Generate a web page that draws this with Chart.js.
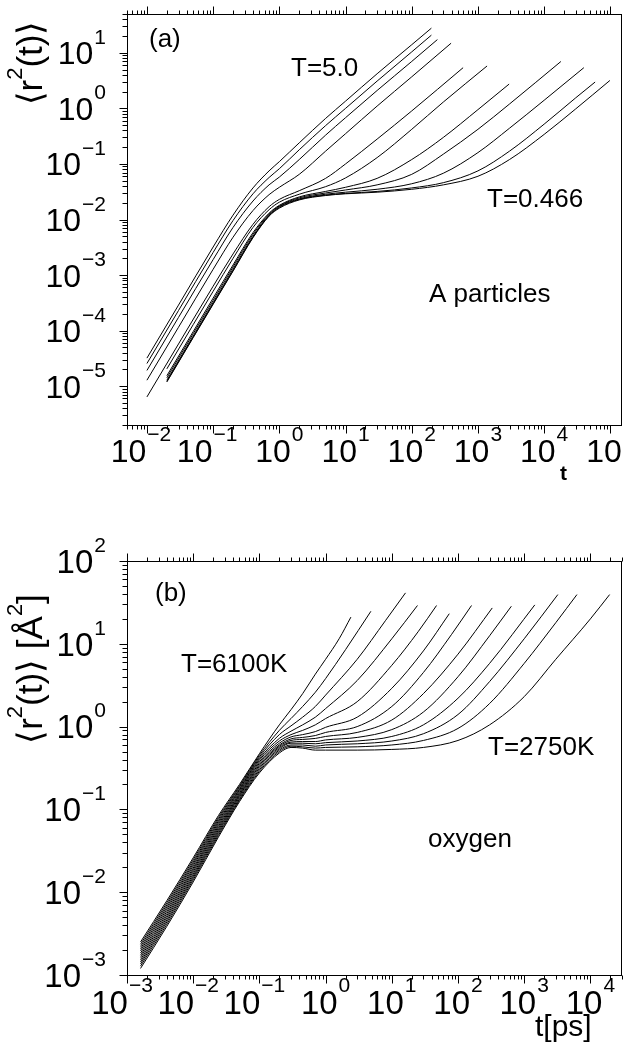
<!DOCTYPE html>
<html>
<head>
<meta charset="utf-8">
<script src="https://cdn.jsdelivr.net/npm/chart.js@4.4.1/dist/chart.umd.min.js"></script>
<style>
  body { margin: 0; background: #fff; width: 623px; height: 1048px; position: relative; overflow: hidden; }
  canvas { position: absolute; left: 0; }
  #ca { top: 0; }
  #cb { top: 495px; }
</style>
</head>
<body>
<canvas id="ca" width="623" height="495"></canvas>
<canvas id="cb" width="623" height="553"></canvas>
<script>
// ---- panel (a): A particles, [t, <r^2(t)>] ----
const aT500 = [[0.01,3.2e-5],[0.03,2.88e-4],[0.1,3.2e-3],[0.2,1.2e-2],[0.4,3.7e-2],[0.7,7.5e-2],[1,0.11],[2,0.24],[5,0.66],[10,1.35],[30,4.2],[100,14],[198,27.8]];
const aT400 = [[0.01,2.56e-5],[0.03,2.3e-4],[0.1,2.55e-3],[0.2,9.6e-3],[0.4,2.9e-2],[0.7,5.7e-2],[1,8.2e-2],[2,0.18],[5,0.49],[10,1.0],[30,3.1],[100,10.4],[198,20.8]];
const aT300 = [[0.01,1.92e-5],[0.03,1.73e-4],[0.1,1.9e-3],[0.2,7.2e-3],[0.4,2.15e-2],[0.7,4.2e-2],[1,5.8e-2],[2,0.12],[5,0.33],[10,0.68],[30,2.1],[100,7.0],[244,17.3]];
const aT200 = [[0.01,1.28e-5],[0.03,1.15e-4],[0.1,1.27e-3],[0.2,4.8e-3],[0.4,1.45e-2],[0.7,2.8e-2],[1,3.8e-2],[2,6.5e-2],[5,0.17],[10,0.35],[30,1.1],[100,3.7],[393,14.9]];
const aT100 = [[0.01,6.4e-6],[0.03,5.75e-5],[0.1,6.3e-4],[0.2,2.4e-3],[0.4,8.2e-3],[0.7,1.7e-2],[1,2.3e-2],[2,3.3e-2],[5,5.5e-2],[10,0.1],[30,0.28],[100,0.9],[597,5.4]];
const aT080 = [[0.02,2.05e-5],[0.05,1.28e-4],[0.1,5.1e-4],[0.2,2e-3],[0.4,7.2e-3],[0.7,1.5e-2],[1,2.05e-2],[2,2.85e-2],[5,3.9e-2],[10,5.6e-2],[30,0.13],[100,0.42],[300,1.3],[1374,5.8]];
const aT060 = [[0.02,1.54e-5],[0.05,9.6e-5],[0.1,3.85e-4],[0.2,1.52e-3],[0.4,5.8e-3],[0.7,1.3e-2],[1,1.8e-2],[2,2.55e-2],[5,3.2e-2],[10,3.8e-2],[30,5.5e-2],[100,0.12],[300,0.3],[1000,0.95],[2960,2.74]];
const aT055 = [[0.02,1.41e-5],[0.05,8.8e-5],[0.1,3.5e-4],[0.2,1.4e-3],[0.4,5.4e-3],[0.7,1.25e-2],[1,1.75e-2],[2,2.45e-2],[5,3.0e-2],[10,3.4e-2],[30,4.2e-2],[100,6.5e-2],[300,0.15],[1000,0.42],[3000,1.2],[17900,6.98]];
const aT050 = [[0.02,1.28e-5],[0.05,8e-5],[0.1,3.2e-4],[0.2,1.28e-3],[0.4,5.0e-3],[0.7,1.2e-2],[1,1.7e-2],[2,2.35e-2],[5,2.85e-2],[10,3.1e-2],[30,3.5e-2],[100,4.4e-2],[300,6.8e-2],[1000,0.16],[3000,0.44],[10000,1.4],[39800,5.4]];
const aT0475 = [[0.02,1.22e-5],[0.05,7.6e-5],[0.1,3.04e-4],[0.2,1.2e-3],[0.4,4.8e-3],[0.7,1.17e-2],[1,1.65e-2],[2,2.3e-2],[5,2.75e-2],[10,2.95e-2],[30,3.2e-2],[100,3.7e-2],[300,4.6e-2],[1000,7.5e-2],[3000,0.17],[10000,0.52],[30000,1.55],[58900,2.98]];
const aT0466 = [[0.02,1.19e-5],[0.05,7.5e-5],[0.1,2.98e-4],[0.2,1.18e-3],[0.4,4.7e-3],[0.7,1.15e-2],[1,1.6e-2],[2,2.25e-2],[5,2.7e-2],[10,2.9e-2],[30,3.1e-2],[100,3.5e-2],[300,4.2e-2],[1000,6e-2],[3000,0.12],[10000,0.34],[30000,0.98],[98400,3.18]];

// ---- panel (b): oxygen, [t in ps, <r^2(t)> in A^2] ----
const b6100 = [[0.0016,2.5e-3],[0.004,7.9e-3],[0.01,0.026],[0.024,0.084],[0.05,0.2],[0.1,0.47],[0.2,1.05],[0.3,1.6],[0.45,2.5],[0.7,4.3],[1,6.5],[1.6,11.5],[2.41,21]];
const b5200 = [[0.0016,2.35e-3],[0.004,7.45e-3],[0.01,0.0246],[0.024,0.0798],[0.05,0.192],[0.1,0.45],[0.2,0.9],[0.3,1.25],[0.45,1.75],[0.7,2.6],[1,3.8],[2,8.5],[4.83,24.7]];
const b4700 = [[0.0016,2.21e-3],[0.004,7.02e-3],[0.01,0.0232],[0.024,0.076],[0.05,0.185],[0.1,0.43],[0.2,0.8],[0.3,1.02],[0.45,1.3],[0.7,1.75],[1,2.4],[3,6.5],[8,19],[16.1,41.2]];
const b4300 = [[0.0016,2.08e-3],[0.004,6.62e-3],[0.01,0.022],[0.024,0.0723],[0.05,0.177],[0.1,0.411],[0.2,0.72],[0.3,0.88],[0.45,1.05],[0.7,1.3],[1,1.65],[3,3.6],[10,11.5],[24.4,29]];
const b4000 = [[0.0016,1.96e-3],[0.004,6.24e-3],[0.01,0.0208],[0.024,0.0689],[0.05,0.171],[0.1,0.394],[0.2,0.67],[0.3,0.8],[0.45,0.9],[0.7,1.05],[1,1.25],[3,2.0],[10,5.5],[25,14],[47.4,29]];
const b3760 = [[0.0016,1.84e-3],[0.004,5.87e-3],[0.01,0.0196],[0.024,0.0655],[0.05,0.164],[0.1,0.376],[0.2,0.63],[0.3,0.75],[0.45,0.8],[0.7,0.87],[1,0.98],[3,1.3],[10,2.9],[30,8.2],[73.8,23.1]];
const b3580 = [[0.0016,1.73e-3],[0.004,5.53e-3],[0.01,0.0186],[0.024,0.0623],[0.05,0.157],[0.1,0.36],[0.2,0.6],[0.3,0.71],[0.45,0.74],[0.7,0.78],[1,0.85],[3,1.0],[10,1.75],[30,4.5],[80,13],[160,29]];
const b3400 = [[0.0016,1.63e-3],[0.004,5.21e-3],[0.01,0.0176],[0.024,0.0593],[0.05,0.151],[0.1,0.344],[0.2,0.58],[0.3,0.68],[0.45,0.7],[0.7,0.72],[1,0.76],[3,0.85],[10,1.2],[30,2.5],[100,7.5],[329,27.1]];
const b3250 = [[0.0016,1.53e-3],[0.004,4.92e-3],[0.01,0.0166],[0.024,0.0564],[0.05,0.146],[0.1,0.33],[0.2,0.56],[0.3,0.65],[0.45,0.66],[0.7,0.66],[1,0.69],[3,0.74],[10,0.92],[30,1.5],[100,4.0],[300,12.5],[639,28.4]];
const b3100 = [[0.0016,1.44e-3],[0.004,4.63e-3],[0.01,0.0157],[0.024,0.0537],[0.05,0.14],[0.1,0.315],[0.2,0.54],[0.3,0.63],[0.45,0.63],[0.7,0.62],[1,0.64],[3,0.67],[10,0.76],[30,1.05],[100,2.2],[300,5.8],[1445,29.5]];
const b3000 = [[0.0016,1.36e-3],[0.004,4.37e-3],[0.01,0.0149],[0.024,0.0511],[0.05,0.134],[0.1,0.301],[0.2,0.52],[0.3,0.6],[0.45,0.6],[0.7,0.58],[1,0.6],[3,0.62],[10,0.67],[30,0.82],[100,1.4],[300,3.5],[1000,11.5],[3220,39.3]];
const b2900 = [[0.0016,1.28e-3],[0.004,4.11e-3],[0.01,0.0141],[0.024,0.0486],[0.05,0.129],[0.1,0.288],[0.2,0.5],[0.3,0.58],[0.45,0.57],[0.7,0.55],[1,0.56],[3,0.57],[10,0.6],[30,0.68],[100,0.95],[300,1.9],[1000,5.8],[3000,18],[6260,39.3]];
const b2750 = [[0.0016,1.2e-3],[0.004,3.87e-3],[0.01,0.0133],[0.024,0.0462],[0.05,0.124],[0.1,0.276],[0.2,0.48],[0.3,0.56],[0.45,0.55],[0.7,0.52],[1,0.52],[3,0.52],[10,0.53],[30,0.56],[100,0.68],[300,1.05],[1000,2.3],[3000,6.5],[10000,20],[19500,39.3]];

const seriesA = [aT500, aT400, aT300, aT200, aT100, aT080, aT060, aT055, aT050, aT0475, aT0466];
const seriesB = [b6100, b5200, b4700, b4300, b4000, b3760, b3580, b3400, b3250, b3100, b3000, b2900, b2750];

// decade exponents used for tick labels
const xExpA = [-2, -1, 0, 1, 2, 3, 4, 5];
const yExpA = [-5, -4, -3, -2, -1, 0, 1];
const xExpB = [-3, -2, -1, 0, 1, 2, 3, 4];
const yExpB = [-3, -2, -1, 0, 1, 2];

const FONT = '"Liberation Sans", Arial, Helvetica, sans-serif';

function logTicks(min, max) {
  const out = [];
  for (let d = Math.floor(Math.log10(min)); d <= Math.ceil(Math.log10(max)); d++) {
    for (let m = 1; m <= 9; m++) {
      const v = m * Math.pow(10, d);
      if (v >= min * 0.999 && v <= max * 1.001) out.push([v, m === 1]);
    }
  }
  return out;
}

// "10" with a superscript exponent, left edge x, baseline y
function sci(ctx, e, x, y, size, sup) {
  ctx.font = size + 'px ' + FONT;
  ctx.fillText('10', x, y);
  const w = ctx.measureText('10').width;
  ctx.font = sup + 'px ' + FONT;
  ctx.fillText(e < 0 ? '\u2212' + (-e) : String(e), x + w + 1, y - size * 0.64);
}
function sciWidth(ctx, e, size, sup) {
  ctx.font = size + 'px ' + FONT;
  const w = ctx.measureText('10').width;
  ctx.font = sup + 'px ' + FONT;
  return w + 1 + ctx.measureText(e < 0 ? '\u2212' + (-e) : String(e)).width;
}

// run of text pieces, some superscript
function rich(ctx, parts, x, y, size, sup) {
  let cx = x;
  for (const p of parts) {
    ctx.font = (p.s ? sup : size) + 'px ' + FONT;
    ctx.fillText(p.t, cx, p.s ? y - size * 0.55 : y);
    cx += ctx.measureText(p.t).width;
  }
  return cx - x;
}
function richWidth(ctx, parts, size, sup) {
  let w = 0;
  for (const p of parts) {
    ctx.font = (p.s ? sup : size) + 'px ' + FONT;
    w += ctx.measureText(p.t).width;
  }
  return w;
}

const frameAxes = {
  id: 'frameAxes',
  afterDraw(chart, args, o) {
    const ctx = chart.ctx, a = chart.chartArea;
    const xs = chart.scales.x, ys = chart.scales.y;
    ctx.save();
    ctx.strokeStyle = '#000';
    ctx.fillStyle = '#000';
    ctx.lineWidth = 1;
    const L = Math.round(a.left) + 0.5, R = Math.round(a.right) - 0.5;
    const T = Math.round(a.top) + 0.5, B = Math.round(a.bottom) + 0.5;
    ctx.strokeRect(L, T, R - L, B - T);
    ctx.beginPath();
    for (const [v, major] of logTicks(xs.min, xs.max)) {
      const px = Math.round(xs.getPixelForValue(v)) + 0.5;
      const len = major ? 8 : 4;
      ctx.moveTo(px, B); ctx.lineTo(px, B + len);
      ctx.moveTo(px, T); ctx.lineTo(px, T - len);
    }
    for (const [v, major] of logTicks(ys.min, ys.max)) {
      const py = Math.round(ys.getPixelForValue(v)) + 0.5;
      const len = major ? 8 : 5;
      ctx.moveTo(L, py); ctx.lineTo(L - len, py);
    }
    ctx.stroke();

    ctx.textAlign = 'left';
    ctx.textBaseline = 'alphabetic';
    const fs = o.tickSize, ss = o.supSize;
    for (const e of o.xExp) {
      const px = xs.getPixelForValue(Math.pow(10, e));
      const w = sciWidth(ctx, e, fs, ss);
      sci(ctx, e, px - w / 2 + (e < 0 ? o.negShift : 0), B + o.xLabelDy, fs, ss);
    }
    for (const e of o.yExp) {
      const py = ys.getPixelForValue(Math.pow(10, e));
      const w = sciWidth(ctx, e, fs, ss);
      sci(ctx, e, o.yLabelRight - w, py + fs * 0.36, fs, ss);
    }

    // rotated y title
    ctx.save();
    ctx.translate(o.yTitle.x, o.yTitle.y);
    ctx.rotate(-Math.PI / 2);
    const tw = richWidth(ctx, o.yTitle.parts, o.yTitle.size, o.yTitle.sup);
    rich(ctx, o.yTitle.parts, -tw / 2, o.yTitle.size * 0.36, o.yTitle.size, o.yTitle.sup);
    ctx.restore();

    // x title
    ctx.font = o.xTitle.font;
    ctx.fillText(o.xTitle.text, o.xTitle.x, o.xTitle.y);

    // annotations
    ctx.font = o.noteSize + 'px ' + FONT;
    for (const n of o.notes) ctx.fillText(n.text, n.x, n.y);
    ctx.restore();
  }
};

function makeChart(id, series, xr, yr, pad, axes) {
  return new Chart(document.getElementById(id), {
    type: 'line',
    data: {
      datasets: series.map(s => ({
        data: s.map(p => ({ x: p[0], y: p[1] })),
        borderColor: '#000',
        borderWidth: 1,
        pointRadius: 0,
        fill: false,
        cubicInterpolationMode: 'monotone'
      }))
    },
    options: {
      responsive: false,
      animation: false,
      devicePixelRatio: 1,
      layout: { padding: pad },
      events: [],
      scales: {
        x: { type: 'logarithmic', min: xr[0], max: xr[1], display: false },
        y: { type: 'logarithmic', min: yr[0], max: yr[1], display: false }
      },
      plugins: { legend: { display: false }, tooltip: { enabled: false }, frameAxes: axes }
    },
    plugins: [frameAxes]
  });
}

makeChart('ca', seriesA, [0.005, 1.5e5], [2e-6, 50],
  { left: 127, right: 1, top: 14, bottom: 70 },
  {
    xExp: xExpA, yExp: yExpA, tickSize: 32, supSize: 21, negShift: -6,
    xLabelDy: 36, yLabelRight: 106,
    yTitle: { x: 29, y: 63, size: 35, sup: 22, parts: [{ t: '\u27E8r' }, { t: '2', s: 1 }, { t: '(t)\u27E9' }] },
    xTitle: { text: 't', x: 560, y: 480, font: 'bold 21px ' + FONT },
    noteSize: 26,
    notes: [
      { text: '(a)', x: 149, y: 47 },
      { text: 'T=5.0', x: 291, y: 76 },
      { text: 'T=0.466', x: 487, y: 207 },
      { text: 'A particles', x: 429, y: 302 }
    ]
  });

makeChart('cb', seriesB, [1e-3, 3e4], [1e-3, 100],
  { left: 127, right: 1, top: 66, bottom: 73 },
  {
    xExp: xExpB, yExp: yExpB, tickSize: 33, supSize: 21, negShift: -5,
    xLabelDy: 38, yLabelRight: 106,
    yTitle: { x: 29, y: 174, size: 35, sup: 22, parts: [{ t: '\u27E8r' }, { t: '2', s: 1 }, { t: '(t)\u27E9 [\u00C5' }, { t: '2', s: 1 }, { t: ']' }] },
    xTitle: { text: 't[ps]', x: 535, y: 541, font: '30px ' + FONT },
    noteSize: 26,
    notes: [
      { text: '(b)', x: 155, y: 106 },
      { text: 'T=6100K', x: 181, y: 177 },
      { text: 'T=2750K', x: 488, y: 260 },
      { text: 'oxygen', x: 428, y: 352 }
    ]
  });
</script>
</body>
</html>
